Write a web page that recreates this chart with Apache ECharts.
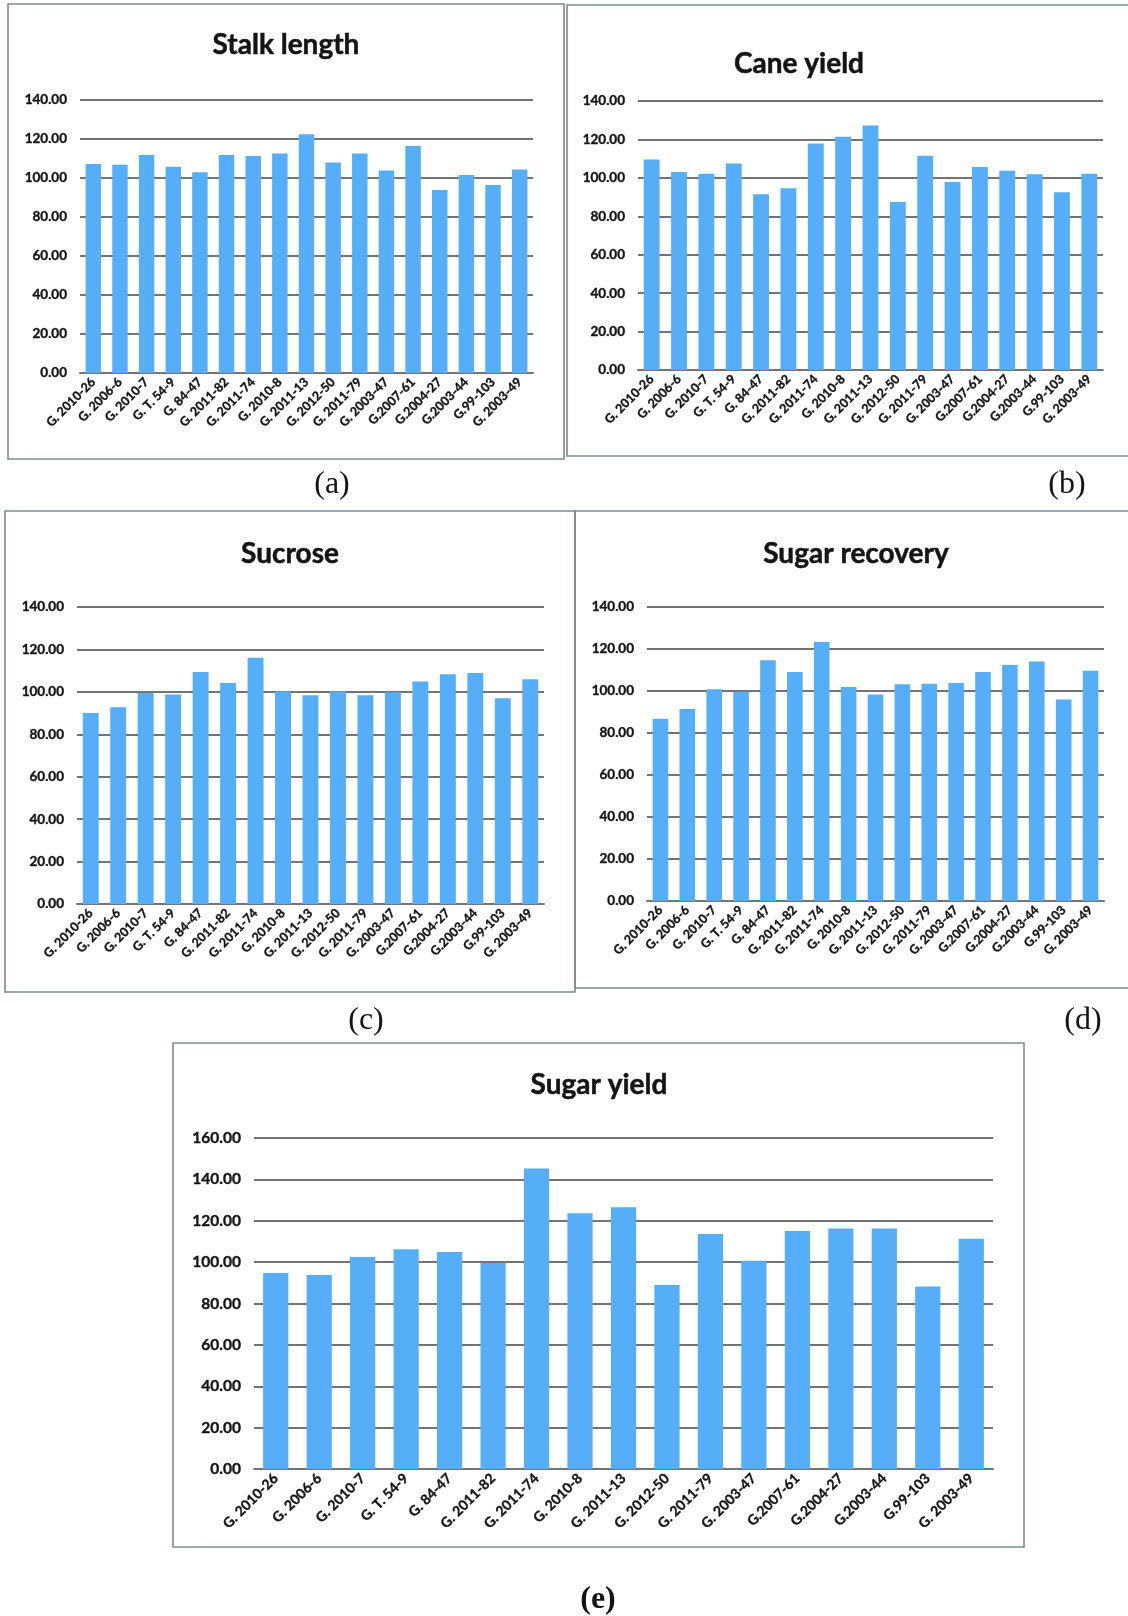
<!DOCTYPE html>
<html>
<head>
<meta charset="utf-8">
<script src="https://cdn.jsdelivr.net/npm/echarts@6/dist/echarts.min.js"></script>
<style>
  html, body { margin: 0; padding: 0; background: #ffffff; }
  #chart { width: 1128px; height: 1616px; }
</style>
</head>
<body>
<div id="chart"></div>
<script>
// Sugarcane genotypes (shared category axis for every panel)
const genotypes = [
  'G. 2010-26', 'G. 2006-6', 'G. 2010-7', 'G. T. 54-9', 'G. 84-47', 'G. 2011-82',
  'G. 2011-74', 'G. 2010-8', 'G. 2011-13', 'G. 2012-50', 'G. 2011-79', 'G. 2003-47',
  'G.2007-61', 'G.2004-27', 'G.2003-44', 'G.99-103', 'G. 2003-49'
];

// Relative performance of each genotype (%)
const stalkLength   = [107.2, 106.8, 111.8, 105.8, 102.9, 111.8, 111.3, 112.6, 122.5, 108.0, 112.6, 103.9, 116.4, 93.9, 101.5, 96.4, 104.3];
const caneYield     = [109.6, 103.0, 102.1, 107.5, 91.5, 94.6, 117.9, 121.4, 127.3, 87.5, 111.5, 97.9, 105.7, 103.7, 101.9, 92.5, 102.1];
const sucrose       = [90.0, 92.8, 99.5, 98.7, 109.4, 104.2, 116.1, 100.2, 98.4, 100.2, 98.4, 99.8, 104.9, 108.3, 108.9, 97.0, 106.0];
const sugarRecovery = [86.8, 91.4, 100.8, 99.7, 114.6, 109.0, 123.3, 101.9, 98.3, 103.2, 103.5, 103.8, 109.0, 112.4, 114.1, 96.0, 109.7];
const sugarYield    = [94.7, 93.8, 102.5, 106.2, 104.9, 99.6, 145.3, 123.6, 126.5, 88.9, 113.6, 100.7, 115.1, 116.2, 116.2, 88.2, 111.3];

// Value-axis ranges
const axisMax = [140, 140, 140, 140, 160];
const axisStep = 20;

const titles = ['Stalk length', 'Cane yield', 'Sucrose', 'Sugar recovery', 'Sugar yield'];
const tags = ['(a)', '(b)', '(c)', '(d)', '(e)'];
const seriesData = [stalkLength, caneYield, sucrose, sugarRecovery, sugarYield];

// Layout of the five panels
const layout = [
  { grid: { left: 80,  top: 100,  width: 453, height: 273 }, box: [8, 4, 556, 455],    title: [286, 45],   tag: [332, 485],  tick: 13.5, cat: 12.5 },
  { grid: { left: 638, top: 101,  width: 465, height: 269 }, box: [567, 5, 570, 451],  title: [799, 64],   tag: [1067, 485], tick: 13.5, cat: 12.5 },
  { grid: { left: 77,  top: 607,  width: 467, height: 297 }, box: [5, 511, 570, 481],  title: [290, 554],  tag: [366, 1021], tick: 13.5, cat: 12.5 },
  { grid: { left: 647, top: 607,  width: 457, height: 294 }, box: [575, 511, 560, 477], title: [856, 554], tag: [1083, 1021], tick: 13.5, cat: 12.5 },
  { grid: { left: 254, top: 1138, width: 739, height: 331 }, box: [173, 1043, 851, 504], title: [599, 1085], tag: [598, 1600], tick: 15.5, cat: 14, boldTag: true }
];

const FONT = 'Lato, "Open Sans", sans-serif';
const INK = '#141414';
const BAR = '#56aef8';
const GRID_LINE = '#737373';

const chart = echarts.init(document.getElementById('chart'), null, { renderer: 'canvas' });

const grids = [], xAxes = [], yAxes = [], series = [], graphics = [];

layout.forEach((p, i) => {
  grids.push(Object.assign({ containLabel: false }, p.grid));
  xAxes.push({
    type: 'category',
    gridIndex: i,
    data: genotypes,
    axisTick: { show: false },
    axisLine: { show: true, lineStyle: { color: GRID_LINE, width: 1.8 } },
    axisLabel: {
      interval: 0, rotate: 45, margin: 7,
      fontFamily: FONT, fontWeight: 'bold', fontSize: p.cat, color: INK,
      textBorderColor: INK, textBorderWidth: 0.35
    }
  });
  yAxes.push({
    type: 'value',
    gridIndex: i,
    min: 0, max: axisMax[i], interval: axisStep,
    axisLine: { show: false },
    axisTick: { show: false },
    splitLine: { show: true, lineStyle: { color: GRID_LINE, width: 1.8 } },
    axisLabel: {
      margin: 13,
      fontFamily: FONT, fontWeight: 'bold', fontSize: p.tick, color: INK,
      textBorderColor: INK, textBorderWidth: 0.35,
      formatter: v => v.toFixed(2)
    }
  });
  series.push({
    type: 'bar',
    xAxisIndex: i, yAxisIndex: i,
    data: seriesData[i],
    barCategoryGap: '42%',
    itemStyle: { color: BAR },
    silent: true
  });
  // panel frame
  graphics.push({
    type: 'rect', silent: true, z: -1,
    shape: { x: p.box[0], y: p.box[1], width: p.box[2], height: p.box[3] },
    style: { fill: null, stroke: '#7f8a8a', lineWidth: 1.6 }
  });
  // panel heading
  graphics.push({
    type: 'text', silent: true,
    x: p.title[0], y: p.title[1],
    style: {
      text: titles[i], fontFamily: FONT, fontWeight: 'bold', fontSize: 28,
      fill: INK, stroke: INK, lineWidth: 0.5,
      textAlign: 'center', textVerticalAlign: 'middle'
    }
  });
  // sub-figure tag
  graphics.push({
    type: 'text', silent: true,
    x: p.tag[0], y: p.tag[1],
    style: {
      text: tags[i], fontFamily: '"Liberation Serif", "DejaVu Serif", serif',
      fontWeight: p.boldTag ? 'bold' : 'normal', fontSize: 32,
      fill: INK, textAlign: 'center', textVerticalAlign: 'middle'
    }
  });
});

chart.setOption({
  animation: false,
  backgroundColor: '#ffffff',
  grid: grids,
  xAxis: xAxes,
  yAxis: yAxes,
  series: series,
  graphic: graphics
});
</script>
</body>
</html>
